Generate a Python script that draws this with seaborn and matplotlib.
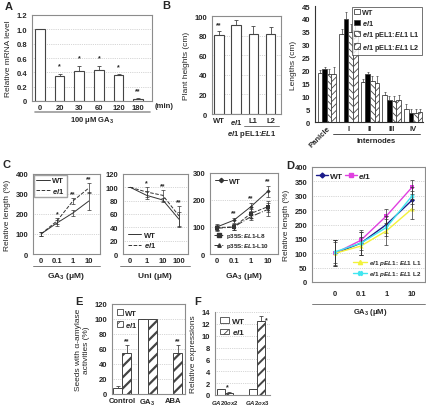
import numpy as np
import pandas as pd
import matplotlib
matplotlib.use("Agg")
import matplotlib.pyplot as plt
from matplotlib.lines import Line2D
from matplotlib.patches import Patch
import seaborn as sns

sns.set_style("white")
plt.rcParams["font.family"] = ["Liberation Sans", "DejaVu Sans"]
plt.rcParams["font.weight"] = "bold"
plt.rcParams["mathtext.fontset"] = "custom"
plt.rcParams["mathtext.it"] = "Liberation Sans:italic:bold"
plt.rcParams["mathtext.rm"] = "Liberation Sans:bold"
plt.rcParams["mathtext.bf"] = "Liberation Sans:bold"
plt.rcParams["hatch.linewidth"] = 0.6

# ---------------- data ----------------
# A: relative mRNA level after GA3 treatment
a_times = ["0", "20", "30", "60", "120", "180"]
a_vals = [1.0, 0.35, 0.42, 0.43, 0.36, 0.03]
a_err = [0.01, 0.03, 0.07, 0.06, 0.01, 0.005]
a_sig = ["", "*", "*", "*", "*", "**"]

# B: plant heights
b_lines = ["WT", "el1", "L1", "L2"]
b_vals = [81, 91, 82, 82]
b_err = [4, 5, 8, 7]
b_sig = ["**", "", "", ""]

# B (right): organ lengths
organs = ["Panicle", "I", "II", "III", "IV"]
b2_lines = ["WT", "el1", "L1", "L2"]
b2_wt = [19, 34, 15.5, 10.5, 5]
b2_el1 = [20.5, 40, 18.5, 8.5, 3.5]
b2_l1 = [18.5, 35, 16, 8, 3.5]
b2_l2 = [18.5, 35.5, 15, 8.5, 4]
b2_wt_err = [1, 2, 1, 1, 2]
b2_el1_err = [1, 2.5, 1, 1.5, 1.5]
b2_l1_err = [2, 3, 2, 2, 1.5]
b2_l2_err = [3, 3, 3, 2, 1]

# C: dose responses
c_ga = ["0", "0.1", "1", "10"]
c1_wt = [100, 155, 205, 265]
c1_wt_err = [10, 15, 15, 45]
c1_el1 = [100, 165, 265, 330]
c1_el1_err = [10, 15, 15, 25]
c1_sig = ["", "*", "**", "**"]

c_uni = ["0", "1", "10", "100"]
c2_wt = [100, 88, 81, 52]
c2_wt_err = [0, 6, 3, 11]
c2_el1 = [100, 93, 88, 57]
c2_el1_err = [0, 7, 8, 15]
c2_sig = ["", "*", "**", "**"]

c3_wt = [100, 125, 175, 232]
c3_wt_err = [12, 10, 15, 20]
c3_l8 = [98, 100, 150, 175]
c3_l8_err = [10, 12, 15, 20]
c3_l10 = [95, 100, 138, 165]
c3_l10_err = [10, 10, 12, 25]
c3_sig = ["", "**", "**", "**"]

# D
d_wt = [100, 135, 200, 285]
d_wt_err = [45, 40, 30, 30]
d_el1 = [100, 145, 230, 330]
d_el1_err = [45, 35, 25, 25]
d_l1 = [100, 125, 178, 255]
d_l1_err = [40, 30, 50, 35]
d_l2 = [105, 135, 190, 300]
d_l2_err = [40, 40, 30, 30]

# E
e_treat = ["Control", "GA$_3$", "ABA"]
e_wt = [8, 100, 0]
e_wt_err = [3, 0, 0]
e_el1 = [55, 100, 55]
e_el1_err = [10, 0, 10]
e_sig = ["**", "", "**"]

# F
f_genes = ["$\\it{GA20ox2}$", "$\\it{GA2ox3}$"]
f_wt = [1.0, 1.0]
f_wt_err = [0.05, 0.05]
f_el1 = [0.4, 12.5]
f_el1_err = [0.05, 0.8]

# ---------------- layout helpers ----------------
W, H = 427, 410
fig = plt.figure(figsize=(W / 100, H / 100), dpi=100)
SPINE = "#8c8c8c"
EDGE = "#444444"
TICK = 5.5
LAB = 6


def add(l, t, r, b):
    return fig.add_axes([l / W, 1 - b / H, (r - l) / W, (b - t) / H])


def ftext(x, y, s, **kw):
    fig.text(x / W, 1 - y / H, s, **kw)


def hline(x1, x2, y, color="#999999", lw=1.2):
    fig.add_artist(Line2D([x1 / W, x2 / W], [1 - y / H] * 2, color=color, lw=lw,
                          transform=fig.transFigure))


def style(ax, box=True, grid=True):
    for s in ax.spines.values():
        s.set_color(SPINE)
        s.set_linewidth(0.8)
    if not box:
        ax.spines["top"].set_visible(False)
        ax.spines["right"].set_visible(False)
    ax.tick_params(axis="both", labelsize=TICK, length=2, width=0.5, color=SPINE, pad=1.5)
    ax.tick_params(axis="x", length=0, pad=2)
    if grid:
        ax.yaxis.grid(True, linestyle=":", color="#b0b0b0", lw=0.5)
    ax.set_axisbelow(True)
    ax.set_xlabel("")
    ax.set_ylabel("")


def centers(cont):
    return [b.get_x() + b.get_width() / 2 for b in cont]


def ebar(ax, x, y, e, color=EDGE, lw=0.6, cap=1.5):
    ax.errorbar(x, y, yerr=[np.zeros(len(e)), e], fmt="none", ecolor=color,
                elinewidth=lw, capsize=cap, capthick=lw)


def stars(ax, x, y, e, sig, off, fs=5):
    for xi, yi, ei, s in zip(x, y, e, sig):
        if s:
            ax.text(xi, yi + ei + off, s, ha="center", va="bottom", fontsize=fs)


def set_hatch_lw(bar, lw):
    try:
        bar.set_hatch_linewidth(lw)
    except AttributeError:
        pass

# ---------------- A ----------------
ax = add(32, 16, 152, 102)
sns.barplot(x=a_times, y=a_vals, color="white", edgecolor=EDGE, linewidth=0.8,
            width=0.5, saturation=1, ax=ax)
xa = centers(ax.containers[0])
ebar(ax, xa, a_vals, a_err)
stars(ax, xa, a_vals, a_err, a_sig, 0.06)
ax.set_ylim(0, 1.2)
ax.set_yticks(np.arange(0, 1.21, 0.2))
ax.set_yticklabels(["0", "0.2", "0.4", "0.6", "0.8", "1.0", "1.2"])
ax.set_xlim(-0.4, 5.7)
style(ax)
ax.set_ylabel("Relative mRNA level", fontsize=LAB, labelpad=3)
ftext(155, 107, "(min)", fontsize=TICK, ha="left", va="center")
hline(35, 150, 113)
ftext(92, 121, "100 \u03bcM GA$_3$", fontsize=TICK, ha="center", va="center")
ftext(5, 7, "A", fontsize=8, ha="left", va="center")

# ---------------- B ----------------
ax = add(212, 17, 281, 115)
sns.barplot(x=b_lines, y=b_vals, color="white", edgecolor=EDGE, linewidth=0.8,
            width=0.55, saturation=1, ax=ax)
xb = centers(ax.containers[0])
ebar(ax, xb, b_vals, b_err)
stars(ax, xb, b_vals, b_err, b_sig, 3)
ax.set_ylim(0, 100)
ax.set_yticks(range(0, 101, 20))
ax.set_xlim(-0.4, 3.6)
style(ax)
ax.set_xticks(range(4))
ax.set_xticklabels(["WT", "$\\it{el1}$", "L1", "L2"])
ax.set_ylabel("Plant heights (cm)", fontsize=LAB, labelpad=3)
hline(244, 279, 127, color="#666666", lw=0.6)
ftext(252, 134, "$\\it{el1}$ pEL1:$\\it{EL1}$", fontsize=TICK, ha="center", va="center")
ftext(162, 6, "B", fontsize=8, ha="left", va="center")

# ---------------- B right ----------------
ax = add(315, 7, 423, 123)
df_b2 = pd.DataFrame({
    "organ": organs * 4,
    "line": sum([[l] * 5 for l in b2_lines], []),
    "val": b2_wt + b2_el1 + b2_l1 + b2_l2,
})
b2_errs = [b2_wt_err, b2_el1_err, b2_l1_err, b2_l2_err]
b2_vals = [b2_wt, b2_el1, b2_l1, b2_l2]
b2_hatch = [None, None, "\\\\\\\\\\", "/////"]
sns.barplot(data=df_b2, x="organ", y="val", hue="line", order=organs, hue_order=b2_lines,
            palette=["white", "black", "white", "white"], edgecolor=EDGE, linewidth=0.6,
            width=0.85, saturation=1, errorbar=None, legend=False, ax=ax)
for cont, vals, errs, h in zip(ax.containers, b2_vals, b2_errs, b2_hatch):
    if h:
        for bar in cont:
            bar.set_hatch(h)
    ebar(ax, centers(cont), vals, errs, lw=0.5, cap=1)
ax.set_ylim(0, 45)
ax.set_yticks(range(0, 46, 5))
ax.set_xlim(-0.55, 4.45)
style(ax, box=False, grid=False)
ax.spines["left"].set_color("#333333")
ax.spines["bottom"].set_color("#333333")
labs = ax.get_xticklabels()
labs[0].set_rotation(45)
labs[0].set_ha("right")
labs[0].set_rotation_mode("anchor")
ax.set_ylabel("Lengths (cm)", fontsize=LAB, labelpad=3)
hdl = [Patch(facecolor="white", edgecolor=EDGE, lw=0.6),
       Patch(facecolor="black", edgecolor=EDGE, lw=0.6),
       Patch(facecolor="white", edgecolor=EDGE, lw=0.6, hatch="\\\\\\\\\\"),
       Patch(facecolor="white", edgecolor=EDGE, lw=0.6, hatch="/////")]
leg = ax.legend(hdl, ["WT", "$\\it{el1}$", "$\\it{el1}$ pEL1:$\\it{EL1}$ L1",
                      "$\\it{el1}$ pEL1:$\\it{EL1}$ L2"],
                loc="upper right", fontsize=5.2, frameon=True, fancybox=False,
                handlelength=0.8, handleheight=0.8, handletextpad=0.3, labelspacing=0.25,
                borderpad=0.3, borderaxespad=0.1)
leg.get_frame().set_edgecolor("#333333")
leg.get_frame().set_linewidth(0.6)
hline(333, 420, 135, color="#333333", lw=0.6)
ftext(376, 142, "Internodes", fontsize=TICK, ha="center", va="center")

# ---------------- C ----------------
pos = np.arange(4)


def line_panel(ax, series, labels_x):
    for vals, errs, kw in series:
        sns.lineplot(x=pos, y=vals, ax=ax, color=kw.get("color", "#333333"),
                     linestyle=kw.get("ls", "-"), marker=kw.get("marker"),
                     markersize=kw.get("ms", 2.5), lw=kw.get("lw", 0.7),
                     markeredgewidth=0, label=kw.get("label"), legend=False)
        ax.errorbar(pos, vals, yerr=errs, fmt="none", ecolor=kw.get("ecolor", "#333333"),
                    elinewidth=0.5, capsize=1.2, capthick=0.5)
    ax.set_xticks(pos)
    ax.set_xticklabels(labels_x)


ax = add(33, 175, 100, 255)
line_panel(ax, [(c1_wt, c1_wt_err, dict(label="WT")),
                (c1_el1, c1_el1_err, dict(ls="--", label="el1"))], c_ga)
stars(ax, pos, c1_el1, c1_el1_err, c1_sig, 3)
ax.set_ylim(0, 400)
ax.set_yticks(range(0, 401, 100))
ax.set_xlim(-0.5, 3.7)
style(ax)
ax.set_ylabel("Relative length (%)", fontsize=LAB, labelpad=3)
ax.legend(handles=[Line2D([], [], color="#333333", lw=0.7),
                   Line2D([], [], color="#333333", lw=0.7, ls="--")],
          labels=["WT", "$\\it{el1}$"], loc="upper left", fontsize=5.5, fancybox=False,
          handlelength=1.8, handletextpad=0.3, labelspacing=0.2, borderpad=0.3,
          borderaxespad=0.1, edgecolor=SPINE)
hline(33, 100, 267, color="#666666", lw=0.6)
ftext(66, 276, "GA$_3$ (\u03bcM)", fontsize=LAB, ha="center", va="center")
ftext(3, 165, "C", fontsize=8, ha="left", va="center")

ax = add(123, 175, 188, 255)
line_panel(ax, [(c2_wt, c2_wt_err, dict(label="WT")),
                (c2_el1, c2_el1_err, dict(ls="--", label="el1"))], c_uni)
stars(ax, pos, c2_el1, c2_el1_err, c2_sig, 1)
ax.set_ylim(0, 120)
ax.set_yticks(range(0, 121, 20))
ax.set_xlim(-0.45, 3.55)
style(ax)
ax.legend(handles=[Line2D([], [], color="#333333", lw=0.7),
                   Line2D([], [], color="#333333", lw=0.7, ls="--")],
          labels=["WT", "$\\it{el1}$"], loc="lower left", fontsize=5.5, frameon=False,
          handlelength=1.8, handletextpad=0.3, labelspacing=0.2, borderaxespad=0.2)
hline(120, 190, 267, color="#666666", lw=0.6)
ftext(155, 276, "Uni (\u03bcM)", fontsize=LAB, ha="center", va="center")

ax = add(210, 174, 278, 255)
line_panel(ax, [(c3_wt, c3_wt_err, dict(marker="D", ms=2.2, label="WT")),
                (c3_l8, c3_l8_err, dict(marker="s", ls="--", ms=2.2)),
                (c3_l10, c3_l10_err, dict(marker="^", ls="-.", ms=2.5))], c_ga)
stars(ax, pos, c3_wt, c3_wt_err, c3_sig, 6)
ax.set_ylim(0, 300)
ax.set_yticks(range(0, 301, 100))
ax.set_xlim(-0.4, 3.6)
style(ax)
l1 = ax.legend(handles=[Line2D([], [], color="#333333", lw=0.7, marker="D", ms=2.2)],
               labels=["WT"], loc="upper left", fontsize=5.5, frameon=False,
               handlelength=1.6, handletextpad=0.3, borderaxespad=0.2)
ax.add_artist(l1)
ax.legend(handles=[Line2D([], [], color="#333333", lw=0.7, ls="--", marker="s", ms=2.2),
                   Line2D([], [], color="#333333", lw=0.7, ls="-.", marker="^", ms=2.5)],
          labels=["p35S:$\\it{EL1}$-L8", "p35S:$\\it{EL1}$-L10"], loc="lower left",
          fontsize=4.5, frameon=False, handlelength=1.6, handletextpad=0.3,
          labelspacing=0.2, borderaxespad=0.2)
ftext(244, 276, "GA$_3$ (\u03bcM)", fontsize=LAB, ha="center", va="center")

# ---------------- D ----------------
ax = add(312, 168, 425, 283)
line_panel(ax, [(d_wt, d_wt_err, dict(color="#1b1b8a", marker="D", ms=2.5, lw=1.0)),
                (d_el1, d_el1_err, dict(color="#e040e0", marker="s", ms=2.5, lw=1.0)),
                (d_l1, d_l1_err, dict(color="#f2f23a", marker="^", ms=3, lw=1.0)),
                (d_l2, d_l2_err, dict(color="#40e6f0", marker="X", ms=3, lw=1.0))], c_ga)
ax.set_ylim(0, 400)
ax.set_yticks(range(0, 401, 50))
ax.set_xlim(-0.9, 3.5)
style(ax)
l1 = ax.legend(handles=[Line2D([], [], color="#1b1b8a", lw=1.0, marker="D", ms=2.5),
                        Line2D([], [], color="#e040e0", lw=1.0, marker="s", ms=2.5)],
               labels=["WT", "$\\it{el1}$"], loc="upper left", ncol=2, fontsize=6,
               frameon=False, handlelength=1.4, handletextpad=0.2, columnspacing=0.3,
               borderaxespad=0.1)
ax.add_artist(l1)
ax.legend(handles=[Line2D([], [], color="#f2f23a", lw=1.0, marker="^", ms=3),
                   Line2D([], [], color="#40e6f0", lw=1.0, marker="X", ms=3)],
          labels=["$\\it{el1}$ $\\it{pEL1:EL1}$ L1", "$\\it{el1}$ $\\it{pEL1:EL1}$ L2"],
          loc="lower right", fontsize=4.5, frameon=False, handlelength=2.2,
          handletextpad=0.3, labelspacing=0.4, borderaxespad=0.2)
ax.set_ylabel("Relative length (%)", fontsize=LAB, labelpad=3)
ax.tick_params(axis="x", pad=6)
hline(312, 425, 305, color="#666666", lw=0.6)
ftext(370, 313, "GA$_3$ (\u03bcM)", fontsize=TICK, ha="center", va="center")
ftext(286, 166, "D", fontsize=8, ha="left", va="center")

# ---------------- E ----------------
ax = add(112, 305, 185, 395)
df_e = pd.DataFrame({"treat": e_treat * 2, "line": ["WT"] * 3 + ["el1"] * 3,
                     "val": e_wt + e_el1})
sns.barplot(data=df_e, x="treat", y="val", hue="line", order=e_treat, hue_order=["WT", "el1"],
            palette=["white", "white"], edgecolor=EDGE, linewidth=0.7, width=0.72,
            saturation=1, errorbar=None, legend=False, ax=ax)
for bar in ax.containers[1]:
    bar.set_hatch("///")
    set_hatch_lw(bar, 1.6)
ebar(ax, centers(ax.containers[0]), e_wt, e_wt_err)
ebar(ax, centers(ax.containers[1]), e_el1, e_el1_err)
stars(ax, centers(ax.containers[1]), e_el1, e_el1_err, e_sig, 1)
ax.set_ylim(0, 120)
ax.set_yticks(range(0, 121, 20))
ax.set_xlim(-0.4, 2.47)
style(ax)
ax.set_ylabel("Seeds with \u03b1-amylase\nactivities (%)", fontsize=LAB, labelpad=3)
ax.legend(handles=[Patch(facecolor="white", edgecolor=EDGE, lw=0.6),
                   Patch(facecolor="white", edgecolor=EDGE, lw=0.6, hatch="////")],
          labels=["WT", "$\\it{el1}$"], loc="upper left", fontsize=5.5, frameon=False,
          handlelength=0.7, handleheight=0.7, handletextpad=0.3, labelspacing=0.4,
          borderaxespad=0.3)
ftext(75, 302, "E", fontsize=8, ha="left", va="center")

# ---------------- F ----------------
ax = add(215, 313, 270, 396)
df_f = pd.DataFrame({"gene": f_genes * 2, "line": ["WT"] * 2 + ["el1"] * 2,
                     "val": f_wt + f_el1})
sns.barplot(data=df_f, x="gene", y="val", hue="line", order=f_genes, hue_order=["WT", "el1"],
            palette=["white", "white"], edgecolor=EDGE, linewidth=0.7, width=0.5,
            saturation=1, errorbar=None, legend=False, ax=ax)
for bar in ax.containers[1]:
    bar.set_hatch("///")
    set_hatch_lw(bar, 1.4)
ebar(ax, centers(ax.containers[0]), f_wt, f_wt_err)
ebar(ax, centers(ax.containers[1]), f_el1, f_el1_err)
xf = centers(ax.containers[1])
ax.text(xf[0] - 0.05, f_wt[0] - 0.2, "*", ha="center", va="bottom", fontsize=5)
ax.text(xf[1] + 0.17, f_el1[1] + f_el1_err[1] - 1.2, "*", ha="center", va="bottom", fontsize=5)
ax.set_ylim(0, 14)
ax.set_yticks(range(0, 15, 2))
ax.set_xlim(-0.31, 1.4)
style(ax, box=False)
ax.tick_params(axis="x", labelsize=4.3)
ax.set_ylabel("Relative expressions", fontsize=LAB, labelpad=3)
ax.legend(handles=[Patch(facecolor="white", edgecolor=EDGE, lw=0.6),
                   Patch(facecolor="white", edgecolor=EDGE, lw=0.6, hatch="////")],
          labels=["WT", "$\\it{el1}$"], loc="upper left", fontsize=6, frameon=False,
          handlelength=1.1, handleheight=0.7, handletextpad=0.3, labelspacing=0.3,
          borderaxespad=0.2)
ftext(194, 302, "F", fontsize=8, ha="left", va="center")

fig.savefig("out.png", dpi=100)
